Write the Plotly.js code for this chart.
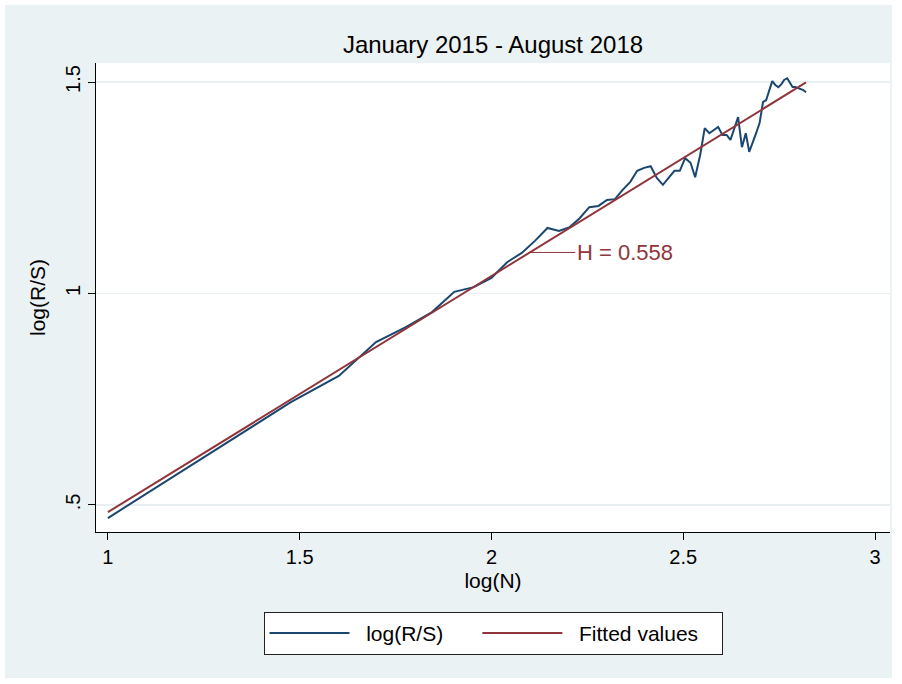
<!DOCTYPE html>
<html>
<head>
<meta charset="utf-8">
<script src="https://cdn.plot.ly/plotly-3.0.1.min.js"></script>
<style>
  html, body { margin: 0; padding: 0; background: #ffffff; }
  #chart { position: absolute; left: 5px; top: 5px; width: 887px; height: 673px; }
</style>
</head>
<body>
<div id="chart"></div>
<script>
// log(N) for N = 10, 20, ..., 660
var logN = [1.000, 1.301, 1.477, 1.602, 1.699, 1.778, 1.845, 1.903, 1.954, 2.000,
            2.041, 2.079, 2.114, 2.146, 2.176, 2.204, 2.230, 2.255, 2.279, 2.301,
            2.322, 2.342, 2.362, 2.380, 2.398, 2.415, 2.431, 2.447, 2.462, 2.477,
            2.491, 2.505, 2.519, 2.531, 2.544, 2.556, 2.568, 2.580, 2.591, 2.602,
            2.613, 2.623, 2.633, 2.643, 2.653, 2.663, 2.672, 2.681, 2.690, 2.699,
            2.708, 2.716, 2.724, 2.732, 2.740, 2.748, 2.756, 2.763, 2.771, 2.778,
            2.785, 2.792, 2.799, 2.806, 2.813, 2.820];
var logRS = [0.469, 0.642, 0.743, 0.805, 0.885, 0.921, 0.956, 1.004, 1.015, 1.037,
             1.074, 1.096, 1.125, 1.155, 1.148, 1.157, 1.178, 1.204, 1.207, 1.221,
             1.223, 1.245, 1.264, 1.290, 1.297, 1.301, 1.273, 1.257, 1.273, 1.290,
             1.290, 1.320, 1.309, 1.275, 1.327, 1.391, 1.379, 1.387, 1.394, 1.375,
             1.375, 1.363, 1.391, 1.417, 1.346, 1.379, 1.335, 1.356, 1.379, 1.403,
             1.453, 1.457, 1.481, 1.502, 1.493, 1.488, 1.495, 1.505, 1.509, 1.498,
             1.488, 1.488, 1.486, 1.483, 1.481, 1.476];
// fitted values (endpoints of the regression line)
var fitX = [1.000, 2.820];
var fitY = [0.483, 1.499];

var xTicks = [1, 1.5, 2, 2.5, 3];
var xTickText = ['1', '1.5', '2', '2.5', '3'];
var yTicks = [0.5, 1, 1.5];
var yTickText = ['.5', '1', '1.5'];

var seriesNames = ['log(R/S)', 'Fitted values'];
var titleText = 'January 2015 - August 2018';
var hLabel = 'H = 0.558';
var hPointX = 2.10;
var hPointY = 1.097;

var navy = '#1a476f';
var maroon = '#90353b';
var fontFam = '"Liberation Sans", Arial, Helvetica, sans-serif';
var nb = '\u00a0';

var traces = [
  { x: logN, y: logRS, type: 'scatter', mode: 'lines',
    name: nb + nb + seriesNames[0] + nb + nb + nb + nb + nb,
    line: { color: navy, width: 2 } },
  { x: fitX, y: fitY, type: 'scatter', mode: 'lines',
    name: nb + nb + seriesNames[1] + nb + nb + nb,
    line: { color: maroon, width: 2 } }
];

var layout = {
  width: 887, height: 673,
  paper_bgcolor: '#eaf2f3',
  plot_bgcolor: '#ffffff',
  margin: { l: 91, r: 2, t: 58, b: 146 },
  font: { family: fontFam, color: '#000000', size: 21 },
  title: { text: titleText, font: { size: 24, color: '#000000' },
           x: 0.5, xref: 'paper', xanchor: 'center', y: 0.9406, yref: 'container', yanchor: 'middle' },
  xaxis: {
    range: [0.969, 3.039], tickvals: xTicks, ticktext: xTickText,
    showgrid: false, zeroline: false, showline: true, linecolor: '#000000', linewidth: 1,
    ticks: 'outside', ticklen: 7, tickcolor: '#000000', tickwidth: 1,
    tickfont: { size: 20 },
    title: { text: 'log(N)', font: { size: 21 }, standoff: 6 }
  },
  yaxis: {
    range: [0.436, 1.545], tickvals: yTicks, ticktext: yTickText, tickangle: -90,
    showgrid: true, gridcolor: '#e9f0f1', gridwidth: 1.5,
    zeroline: false, showline: true, linecolor: '#000000', linewidth: 1,
    ticks: 'outside', ticklen: 7, tickcolor: '#000000', tickwidth: 1,
    tickfont: { size: 20 },
    title: { text: 'log(R/S)', font: { size: 21 }, standoff: 10 }
  },
  showlegend: true,
  legend: {
    orientation: 'h', x: 0.5, xanchor: 'center', y: -0.17, yanchor: 'top',
    bgcolor: '#ffffff', bordercolor: '#222222', borderwidth: 1,
    font: { size: 21 }, itemwidth: 80, traceorder: 'normal'
  },
  annotations: [{
    x: hPointX, y: hPointY, xref: 'x', yref: 'y', text: hLabel,
    showarrow: true, arrowhead: 0, arrowwidth: 1, arrowcolor: maroon,
    ax: 95, ay: 0, standoff: 0,
    font: { size: 22, color: maroon }
  }]
};

Plotly.newPlot('chart', traces, layout, { displayModeBar: false, staticPlot: true });
</script>
</body>
</html>
